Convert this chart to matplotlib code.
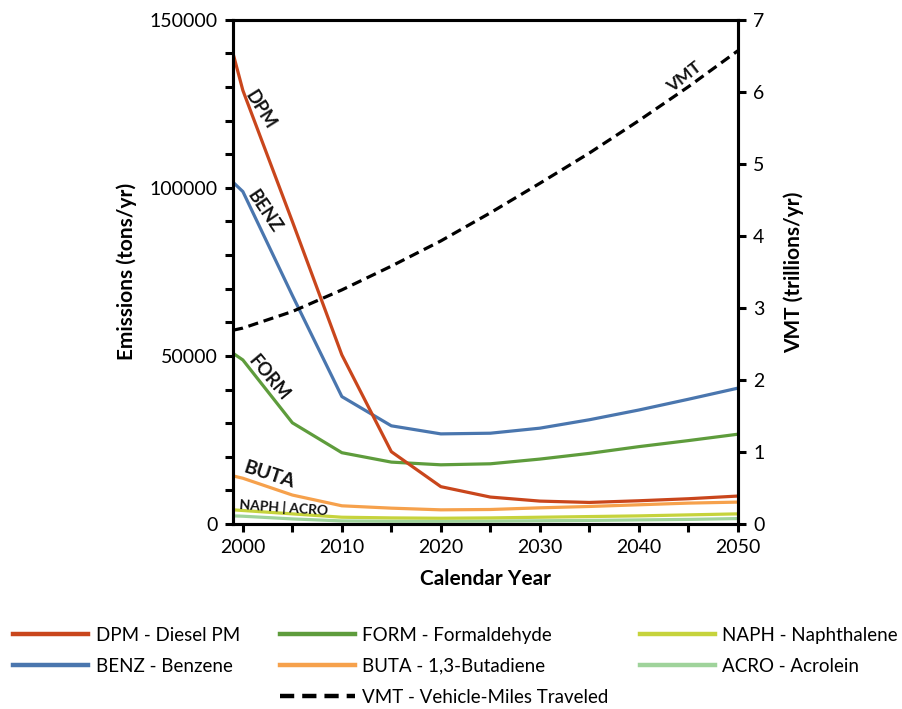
import numpy as np
import matplotlib
matplotlib.use("Agg")
import matplotlib.pyplot as plt
from matplotlib.ticker import MultipleLocator

plt.rcParams['font.family'] = ['Lato', 'DejaVu Sans']

# Emissions by calendar year (tons/yr), VMT in trillions/yr
years = [1999, 2000, 2005, 2010, 2015, 2020, 2025, 2030, 2035, 2040, 2045, 2050]
dpm = [140100, 129000, 90000, 50300, 21500, 11100, 8000, 6800, 6400, 6900, 7500, 8300]
benz = [101700, 98900, 68000, 37900, 29200, 26800, 27000, 28500, 31000, 33900, 37100, 40400]
form = [50800, 48800, 30100, 21200, 18400, 17600, 17900, 19300, 21000, 23000, 24800, 26700]
buta = [14300, 13600, 8600, 5400, 4700, 4200, 4300, 4800, 5200, 5700, 6200, 6500]
naph = [4200, 4000, 3000, 2000, 1800, 1700, 1800, 2000, 2200, 2400, 2700, 3000]
acro = [2400, 2300, 1500, 900, 800, 800, 850, 950, 1050, 1200, 1350, 1600]
vmt = [2.69, 2.72, 2.95, 3.25, 3.58, 3.93, 4.32, 4.73, 5.15, 5.60, 6.07, 6.57]

names = ["DPM - Diesel PM", "BENZ - Benzene", "FORM - Formaldehyde",
         "BUTA - 1,3-Butadiene", "NAPH - Naphthalene", "ACRO - Acrolein"]
colors = ["#C9461C", "#4A76AE", "#5E9C3C", "#F6A14C", "#C6D33C", "#9FD39B"]
series = [dpm, benz, form, buta, naph, acro]

fig = plt.figure(figsize=(9.03, 7.09), dpi=100)
ax = fig.add_axes([0.258, 0.261, 0.559, 0.711])
ax2 = ax.twinx()

lw = 2.3
handles = []
# draw low series first so big ones sit on top
for vals, c, n in reversed(list(zip(series, colors, names))):
    h, = ax.plot(years, vals, color=c, lw=lw, label=n, solid_joinstyle='round')
    handles.insert(0, h)
hv, = ax2.plot(years, vmt, color='black', lw=lw, dashes=(3.2, 1.8),
               label="VMT - Vehicle-Miles Traveled")

ax.set_xlim(1999, 2050)
ax.set_ylim(0, 150000)
ax2.set_ylim(0, 7)

ax.set_xticks([2000, 2010, 2020, 2030, 2040, 2050])
ax.xaxis.set_minor_locator(MultipleLocator(5))
ax.set_yticks([0, 50000, 100000, 150000])
ax.yaxis.set_minor_locator(MultipleLocator(10000))
ax2.set_yticks(range(0, 8))

for a in (ax, ax2):
    for s in a.spines.values():
        s.set_linewidth(2.2)
    a.tick_params(which='both', direction='out', length=6, width=2.2,
                  labelsize=14, pad=5)

ax.set_xlabel("Calendar Year", fontsize=15, fontweight='bold', labelpad=9)
ax.set_ylabel("Emissions (tons/yr)", fontsize=15, fontweight='bold', labelpad=9)
ax2.set_ylabel("VMT (trillions/yr)", fontsize=15, fontweight='bold', labelpad=14)

# in-plot series labels
def tag(a, x, y, s, rot, size=13):
    a.text(x, y, s, rotation=rot, fontsize=size, fontweight='bold',
           color='#111111', ha='center', va='center')

tag(ax, 2001.8, 123200, "DPM", -58)
tag(ax, 2002.2, 92850, "BENZ", -56)
tag(ax, 2002.6, 43450, "FORM", -50)
tag(ax, 2002.7, 14580, "BUTA", -18, 14)
tag(ax, 2004.1, 4760, "NAPH | ACRO", -4, 10)
tag(ax2, 2044.6, 6.2, "VMT", 38, 12.5)

# legend in three columns placed under the chart
cols = [
    ([handles[0], handles[1]], [names[0], names[1]], 13),
    ([handles[2], handles[3], hv], [names[2], names[3], hv.get_label()], 280),
    ([handles[4], handles[5]], [names[4], names[5]], 640),
]
for hs, ls, x0 in cols:
    leg = fig.legend(hs, ls, loc='upper left', bbox_to_anchor=(x0 / 903, 1 - 627 / 709),
                     frameon=False, fontsize=13.5, handlelength=4.0, handletextpad=0.4,
                     labelspacing=0.74, borderpad=0, borderaxespad=0)
    for ln in leg.get_lines():
        ln.set_linewidth(3.2)

fig.savefig("out.png", dpi=100)
